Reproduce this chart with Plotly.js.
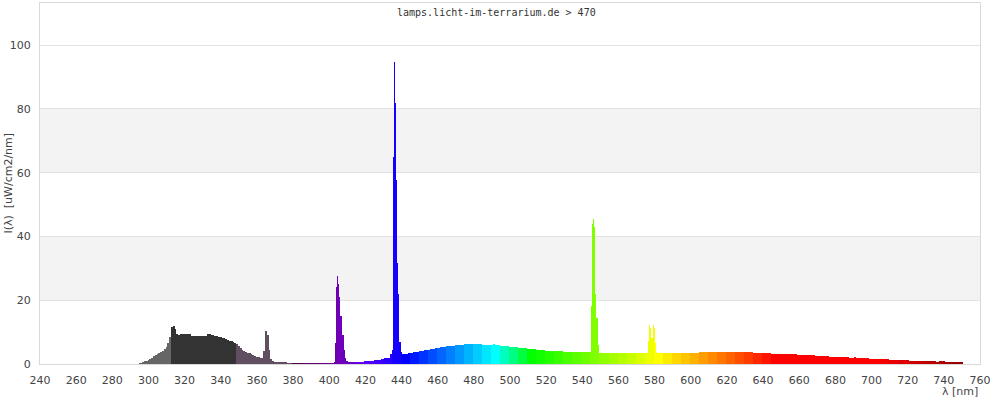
<!DOCTYPE html>
<html><head><meta charset="utf-8">
<script src="https://cdn.plot.ly/plotly-3.0.1.min.js"></script>
<style>html,body{margin:0;padding:0;background:#fff}#chart{width:1000px;height:400px}</style>
</head><body><div id="chart"></div>
<script>
// Spectrum at 1 nm steps, starting at 295 nm (uW/cm2/nm)
const startNm = 295;
const intensity = [
  0.4, 0.4, 0.6, 0.8, 1.0, 1.25, 1.5, 2.0, 2.4, 2.7,      // 295
  3.0, 3.4, 3.7, 4.2, 4.7, 5.3, 6.5, 8.5, 11.7, 12.0,     // 305
  11.0, 9.5, 9.2, 9.4, 9.4, 9.4, 9.4, 9.3, 9.3, 8.9,      // 315
  8.9, 8.8, 8.8, 8.8, 8.8, 8.8, 8.8, 8.9, 9.3, 9.4,       // 325
  9.2, 9.0, 8.9, 8.7, 8.6, 8.4, 8.2, 8.0, 7.8, 7.6,       // 335
  7.3, 7.1, 6.9, 6.7, 6.4, 5.5, 4.9, 4.5, 4.2, 3.9,       // 345
  3.6, 3.3, 3.0, 2.8, 2.5, 2.3, 2.1, 2.0, 1.8, 4.0,       // 355
  10.3, 9.0, 4.5, 1.5, 0.9, 0.6, 0.5, 0.5, 0.5, 0.5,      // 365
  0.5, 0.5, 0.4, 0.4, 0.4, 0.3, 0.3, 0.3, 0.3, 0.3,       // 375
  0.3, 0.3, 0.3, 0.3, 0.3, 0.3, 0.3, 0.3, 0.3, 0.3,       // 385
  0.3, 0.3, 0.3, 0.3, 0.3, 0.3, 0.3, 0.4, 6.5, 26,        // 395
  24, 15, 9, 4.4, 1.8, 1.0, 0.6, 0.6, 0.6, 0.6,           // 405
  0.6, 0.6, 0.6, 0.6, 0.6, 0.9, 0.9, 0.9, 0.9, 0.9,       // 415
  1.2, 1.2, 1.2, 1.2, 1.5, 1.5, 1.9, 1.9, 1.9, 3.0,       // 425
  6.5, 94.7, 57.7, 22, 7, 3.9, 3.1, 3.1, 3.1, 3.3,        // 435
  3.3, 3.3, 3.7, 3.7, 3.7, 4.1, 4.1, 4.1, 4.4, 4.4,       // 445
  4.4, 4.7, 4.7, 4.7, 4.9, 4.9, 4.9, 5.2, 5.2, 5.2,       // 455
  5.6, 5.6, 5.6, 5.6, 5.6, 6.0, 6.0, 6.0, 6.0, 6.0,       // 465
  6.2, 6.2, 6.4, 6.2, 6.2, 6.3, 6.3, 6.3, 6.3, 6.3,       // 475
  6.1, 6.1, 6.1, 6.1, 6.1, 6.0, 6.2, 6.0, 6.0, 6.0,       // 485
  5.6, 5.6, 5.6, 5.6, 5.6, 5.3, 5.3, 5.3, 5.3, 5.3,       // 495
  5.0, 5.0, 5.0, 5.0, 5.0, 4.7, 4.7, 4.7, 4.7, 4.7,       // 505
  4.4, 4.4, 4.4, 4.4, 4.4, 4.2, 4.2, 4.2, 4.2, 4.2,       // 515
  4.1, 4.1, 4.1, 4.1, 4.1, 3.9, 3.9, 3.9, 3.9, 3.9,       // 525
  3.8, 3.8, 3.8, 3.8, 3.8, 3.7, 3.7, 3.7, 3.7, 3.7,       // 535
  18.2, 45.5, 43, 14.3, 3.9, 3.6, 3.55, 3.55, 3.55, 3.45, // 545
  3.45, 3.45, 3.45, 3.45, 3.35, 3.5, 3.35, 3.35, 3.5, 3.35, // 555
  3.35, 3.35, 3.5, 3.35, 3.35, 3.35, 3.35, 3.35, 3.35, 3.35, // 565
  3.35, 3.35, 12.2, 8.0, 12.2, 6.5, 3.9, 3.35, 3.35, 3.35,   // 575
  3.35, 3.35, 3.35, 3.35, 3.35, 3.35, 3.35, 3.35, 3.35, 3.35, // 585
  3.35, 3.35, 3.45, 3.45, 3.45, 3.45, 3.45, 3.55, 3.55, 3.55, // 595
  3.75, 3.75, 3.65, 3.65, 3.65, 3.65, 3.75, 3.75, 3.75, 3.75, // 605
  3.75, 3.75, 3.75, 3.75, 3.75, 3.75, 3.75, 3.75, 3.75, 3.75, // 615
  3.75, 3.65, 3.8, 3.65, 3.65, 3.65, 3.65, 3.65, 3.65, 3.65,  // 625
  3.55, 3.55, 3.55, 3.55, 3.55, 3.45, 3.45, 3.45, 3.45, 3.45, // 635
  3.25, 3.25, 3.25, 3.25, 3.25, 3.25, 3.25, 3.25, 3.25, 3.25, // 645
  3.1, 3.1, 3.1, 3.1, 2.85, 2.85, 2.85, 2.85, 2.85, 2.85,     // 655
  2.85, 2.85, 2.85, 2.85, 2.5, 2.5, 2.5, 2.5, 2.5, 2.5,       // 665
  2.5, 2.5, 2.2, 2.2, 2.2, 2.2, 2.2, 2.2, 2.2, 2.2,           // 675
  2.2, 2.2, 2.2, 1.9, 1.9, 1.9, 2.1, 1.9, 1.9, 1.9,           // 685
  1.9, 1.9, 1.9, 1.9, 1.6, 1.6, 1.6, 1.6, 1.6, 1.6,           // 695
  1.6, 1.6, 1.6, 1.6, 1.6, 1.25, 1.25, 1.25, 1.25, 1.25,      // 705
  1.25, 1.25, 1.25, 1.25, 1.25, 1.25, 0.95, 0.95, 0.95, 0.95, // 715
  0.95, 0.95, 0.95, 0.95, 0.95, 0.95, 0.95, 0.95, 0.95, 0.95, // 725
  0.95, 0.73, 0.73, 1.05, 1.05, 1.05, 0.73, 0.73, 0.73, 0.73, // 735
  0.73, 0.73, 0.73, 0.73, 0.73, 0.73                          // 745-750
];

// Emission lines at 0.5 nm resolution (replace the 1 nm bars they cover)
const fineWavelengths = [
  402.75, 403.25, 403.75, 404.25, 404.75, 405.25, 405.75, 406.25, 406.75, 407.25, 407.75, 408.25, 408.75, 409.25,
  434.75, 435.25, 435.75, 436.25, 436.75, 437.25, 437.75, 438.25, 438.75, 439.25, 439.75, 440.25,
  544.75, 545.25, 545.75, 546.25, 546.75, 547.25, 547.75, 548.25, 548.75, 549.25,
  575.75, 576.25, 576.75, 577.25, 577.75, 578.25, 578.75, 579.25, 579.75, 580.25, 580.75, 581.25
];
const fineIntensity = [
  0.5, 6.5, 6.5, 24, 27.5, 25, 21, 15, 15, 9, 9, 4.4, 1.8, 1.8,
  4.5, 6.5, 65, 94.7, 82, 57.7, 31.7, 22, 7, 7, 3.9, 2.8,
  3.7, 18.2, 43.9, 45.5, 43, 21.8, 14.3, 14.3, 6.0, 3.9,
  3.35, 3.35, 7.3, 12.2, 11.2, 8.0, 8.0, 12.2, 11.2, 6.5, 4.9, 3.9
];

const xTicks = [240, 260, 280, 300, 320, 340, 360, 380, 400, 420, 440, 460, 480, 500, 520, 540, 560, 580, 600, 620, 640, 660, 680, 700, 720, 740, 760];
const yTicks = [0, 20, 40, 60, 80, 100];
const shadedBands = [[20, 40], [60, 80]];
const titleText = 'lamps.licht-im-terrarium.de \u003E 470';
const yTitleText = 'I(\u03BB)\u00A0\u00A0[uW/cm2/nm]';
const xTitleText = '\u03BB [nm]';

function spectrumColor(nm) {
  const n = Math.round(nm);
  if (n <= 312) return '#666666';
  if (n <= 348) return '#333333';
  if (n <= 379) return 'rgb(95,79,96)';
  const w = Math.floor(n / 5) * 5;
  let r = 0, g = 0, b = 0;
  if (w < 440) { r = (440 - w) / 60; b = 1; }
  else if (w < 490) { g = (w - 440) / 50; b = 1; }
  else if (w < 510) { g = 1; b = (510 - w) / 20; }
  else if (w < 580) { r = (w - 510) / 70; g = 1; }
  else if (w < 645) { r = 1; g = (645 - w) / 65; }
  else { r = 1; }
  let f = 1;
  if (w < 420) f = 0.3 + 0.7 * (w - 380) / 40;
  else if (w > 700) f = 0.3 + 0.7 * (780 - w) / 80;
  return 'rgb(' + Math.round(255 * r * f) + ',' + Math.round(255 * g * f) + ',' + Math.round(255 * b * f) + ')';
}

const replaced = new Set(fineWavelengths.map(Math.round));
const xs = [], ys = [], ws = [], cs = [];
intensity.forEach((v, i) => {
  const nm = startNm + i;
  if (replaced.has(nm)) return;
  xs.push(nm); ys.push(v); ws.push(1); cs.push(spectrumColor(nm));
});
fineWavelengths.forEach((nm, i) => {
  xs.push(nm); ys.push(fineIntensity[i]); ws.push(0.5); cs.push(spectrumColor(nm));
});

const tickFont = { family: 'DejaVu Sans, Verdana, sans-serif', size: 11, color: '#444' };

const data = [{
  type: 'bar', x: xs, y: ys, width: ws,
  marker: { color: cs, line: { width: 0 } },
  hoverinfo: 'x+y'
}];

const layout = {
  width: 1000, height: 400,
  margin: { l: 40, r: 20, t: 3, b: 36, pad: 0 },
  paper_bgcolor: '#ffffff', plot_bgcolor: '#ffffff',
  showlegend: false, bargap: 0,
  xaxis: {
    range: [240, 760], tickvals: xTicks, ticktext: xTicks.map(String),
    showgrid: false, zeroline: false, showline: true, mirror: true,
    linecolor: '#d9d9d9', linewidth: 1, ticks: '', tickfont: tickFont,
    ticklabelstandoff: 6, fixedrange: true
  },
  yaxis: {
    range: [0, 113.2], tickvals: yTicks, ticktext: yTicks.map(String),
    showgrid: true, gridcolor: '#e2e2e2', gridwidth: 1, zeroline: false,
    showline: true, mirror: true, linecolor: '#d9d9d9', linewidth: 1,
    ticks: '', tickfont: tickFont, ticklabelstandoff: 6, fixedrange: true
  },
  shapes: shadedBands.map(b => ({
    type: 'rect', xref: 'paper', yref: 'y', x0: 0, x1: 1, y0: b[0], y1: b[1],
    fillcolor: '#f3f3f3', line: { width: 0 }, layer: 'below'
  })),
  annotations: [
    { text: titleText, xref: 'paper', yref: 'paper', x: 0.486, y: 0.975,
      xanchor: 'center', yanchor: 'middle', showarrow: false,
      font: { family: 'DejaVu Sans Mono, monospace', size: 10, color: '#333' } },
    { text: yTitleText, xref: 'paper', yref: 'paper', x: -0.034, y: 0.5,
      xanchor: 'center', yanchor: 'middle', textangle: -90, showarrow: false,
      font: { family: 'DejaVu Sans, Verdana, sans-serif', size: 11, color: '#444' } },
    { text: xTitleText, xref: 'paper', yref: 'paper', x: 1, y: -0.076,
      xanchor: 'right', yanchor: 'middle', showarrow: false,
      font: { family: 'DejaVu Sans, Verdana, sans-serif', size: 11, color: '#444' } }
  ]
};

Plotly.newPlot('chart', data, layout, { displayModeBar: false, staticPlot: true });
</script>
</body></html>
